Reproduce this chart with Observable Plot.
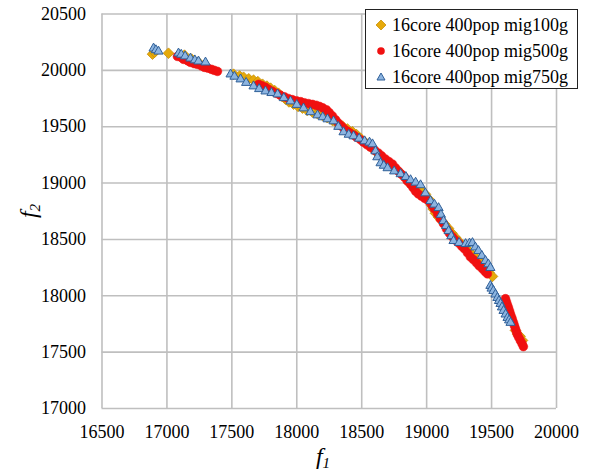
<!DOCTYPE html>
<html>
<head>
<meta charset="utf-8">
<script src="https://cdn.jsdelivr.net/npm/d3@7"></script>
<script src="https://cdn.jsdelivr.net/npm/@observablehq/plot@0.6"></script>
<style>
  html, body { margin: 0; padding: 0; background: #fff; }
  #wrap { position: relative; width: 589px; height: 475px; font-family: "Liberation Serif", "Times New Roman", serif; }
  #legend { position: absolute; left: 365px; top: 9px; width: 211px; height: 78px; border: 1.5px solid #222; background: #fff; }
  #legend .row { position: absolute; left: 0; height: 20px; display: flex; align-items: center; font-size: 18px; color: #000; white-space: nowrap; }
  #legend .row svg { margin-left: 9px; margin-right: 5px; }
</style>
</head>
<body>
<div id="wrap"></div>
<script>
const seriesNames = ["16core 400pop mig100g", "16core 400pop mig500g", "16core 400pop mig750g"];
const xTicks = [16500, 17000, 17500, 18000, 18500, 19000, 19500, 20000];
const yTicks = [17000, 17500, 18000, 18500, 19000, 19500, 20000, 20500];

const mig100_f1 = [16889, 16905, 17012, 17135, 17190, 17243, 17513, 17560, 17590, 17630, 17667, 17700, 17736, 17770, 17798, 17830, 17859, 17885, 17913, 17940, 17975, 18010, 18044, 18080, 18121, 18160, 18198, 18235, 18275, 18310, 18352, 18390, 18429, 18460, 18490, 18520, 18544, 18570, 18598, 18630, 18660, 18690, 18721, 18750, 18783, 18810, 18837, 18860, 18883, 18910, 18937, 18965, 18991, 19015, 19037, 19050, 19068, 19090, 19114, 19140, 19168, 19195, 19222, 19250, 19276, 19305, 19337, 19370, 19399, 19425, 19453, 19480, 19507, 19684, 19700, 19720, 19738];
const mig100_f2 = [20144, 20160, 20152, 20135, 20100, 20072, 19966, 19950, 19939, 19925, 19913, 19900, 19877, 19860, 19842, 19820, 19797, 19770, 19744, 19720, 19700, 19680, 19665, 19645, 19630, 19615, 19600, 19580, 19555, 19530, 19505, 19480, 19455, 19430, 19398, 19370, 19344, 19320, 19291, 19255, 19220, 19190, 19158, 19130, 19105, 19075, 19042, 19010, 18980, 18965, 18954, 18925, 18900, 18860, 18803, 18770, 18732, 18700, 18669, 18635, 18598, 18555, 18518, 18480, 18447, 18415, 18385, 18350, 18314, 18280, 18243, 18205, 18172, 17693, 17660, 17640, 17604];

const mig500_f1 = [17081, 17110, 17128, 17160, 17181, 17210, 17235, 17265, 17289, 17315, 17343, 17365, 17389, 17705, 17730, 17759, 17785, 17813, 17845, 17874, 17905, 17936, 17965, 17998, 18030, 18059, 18090, 18121, 18150, 18175, 18200, 18229, 18250, 18275, 18300, 18321, 18345, 18367, 18390, 18413, 18440, 18460, 18490, 18513, 18540, 18567, 18600, 18629, 18655, 18683, 18710, 18737, 18760, 18783, 18805, 18829, 18850, 18875, 18895, 18914, 18935, 18960, 18985, 19014, 19040, 19060, 19085, 19106, 19130, 19153, 19175, 19199, 19220, 19245, 19270, 19291, 19315, 19337, 19360, 19384, 19405, 19430, 19450, 19468, 19607, 19615, 19622, 19630, 19638, 19645, 19653, 19660, 19669, 19676, 19684, 19692, 19699, 19710, 19722, 19735, 19745];
const mig500_f2 = [20124, 20115, 20098, 20085, 20071, 20060, 20053, 20040, 20027, 20020, 20009, 20000, 19991, 19876, 19865, 19850, 19830, 19814, 19795, 19779, 19765, 19750, 19740, 19730, 19722, 19712, 19705, 19698, 19690, 19680, 19668, 19650, 19625, 19595, 19560, 19531, 19505, 19478, 19460, 19443, 19425, 19407, 19385, 19363, 19340, 19319, 19290, 19266, 19240, 19213, 19190, 19168, 19135, 19106, 19080, 19053, 19020, 18991, 18960, 18929, 18905, 18885, 18865, 18841, 18805, 18770, 18725, 18682, 18640, 18593, 18555, 18522, 18495, 18469, 18440, 18416, 18380, 18345, 18320, 18292, 18265, 18239, 18215, 18195, 17974, 17945, 17920, 17895, 17867, 17840, 17814, 17790, 17761, 17735, 17708, 17680, 17655, 17630, 17602, 17575, 17549];

const mig750_f1 = [16897, 16915, 16935, 17089, 17110, 17140, 17181, 17215, 17243, 17297, 17490, 17520, 17567, 17610, 17667, 17710, 17759, 17805, 17852, 17900, 17952, 18000, 18052, 18105, 18160, 18200, 18237, 18283, 18320, 18360, 18400, 18437, 18480, 18522, 18560, 18583, 18606, 18620, 18645, 18670, 18699, 18750, 18800, 18840, 18876, 18915, 18953, 18990, 19030, 19060, 19092, 19110, 19130, 19150, 19169, 19190, 19207, 19250, 19300, 19330, 19353, 19375, 19399, 19425, 19453, 19475, 19491, 19491, 19500, 19514, 19530, 19545, 19557, 19569, 19580, 19592, 19608, 19623, 19635, 19646];
const mig750_f2 = [20195, 20180, 20168, 20151, 20140, 20125, 20106, 20090, 20080, 20071, 19965, 19945, 19921, 19890, 19859, 19835, 19814, 19800, 19788, 19755, 19726, 19695, 19664, 19630, 19602, 19585, 19567, 19549, 19500, 19452, 19430, 19416, 19395, 19372, 19360, 19345, 19283, 19230, 19177, 19155, 19133, 19105, 19080, 19055, 19027, 19005, 18982, 18910, 18841, 18810, 18779, 18720, 18664, 18620, 18575, 18530, 18487, 18470, 18460, 18465, 18469, 18430, 18398, 18355, 18310, 18280, 18248, 18089, 18065, 18044, 18012, 17982, 17955, 17929, 17898, 17867, 17835, 17805, 17783, 17761];

const toRows = (xs, ys) => xs.map((v, i) => ({f1: v, f2: ys[i]}));
const s100 = toRows(mig100_f1, mig100_f2);
const s500 = toRows(mig500_f1, mig500_f2);
const s750 = toRows(mig750_f1, mig750_f2);

const gold = "#E6AA0A", goldStroke = "#C8900A";
const red = "#F01010";
const triFill = "#8CB4E0", triStroke = "#2F5F98";
const gridColor = "#BFBFBF";

const chart = Plot.plot({
  width: 589,
  height: 475,
  marginLeft: 101.5,
  marginRight: 33,
  marginTop: 13.5,
  marginBottom: 67,
  style: { fontFamily: "Liberation Serif, Times New Roman, serif", fontSize: "18px", color: "#000", background: "#fff", overflow: "visible" },
  x: { domain: [16500, 20000] },
  y: { domain: [17000, 20500] },
  marks: [
    Plot.gridX(xTicks, { stroke: gridColor, strokeOpacity: 1, strokeWidth: 1.6 }),
    Plot.gridY(yTicks, { stroke: gridColor, strokeOpacity: 1, strokeWidth: 1.6 }),
    Plot.axisX(xTicks, { tickSize: 0, tickPadding: 17, tickFormat: d => String(d), label: null, fontSize: 18 }),
    Plot.axisY(yTicks, { tickSize: 0, tickPadding: 16, tickFormat: d => String(d), label: null, fontSize: 18 }),
    Plot.dot(s100, { x: "f1", y: "f2", symbol: "diamond2", r: 4.8, fill: gold, stroke: goldStroke, strokeWidth: 0.8 }),
    Plot.dot(s500, { x: "f1", y: "f2", symbol: "circle", r: 4.4, fill: red, stroke: red, strokeWidth: 0.5 }),
    Plot.dot(s750, { x: "f1", y: "f2", symbol: "triangle", r: 3.4, fill: triFill, stroke: triStroke, strokeWidth: 1 })
  ]
});

const wrap = document.getElementById("wrap");
wrap.appendChild(chart);

// axis titles (italic f with subscripts)
const svg = d3.select(chart);
const xt = svg.append("text")
  .attr("x", 323).attr("y", 464)
  .attr("text-anchor", "middle")
  .attr("font-family", "Liberation Serif, Times New Roman, serif")
  .attr("font-size", 24).attr("font-style", "italic").attr("fill", "#000");
xt.append("tspan").text("f");
xt.append("tspan").attr("font-size", 15).attr("dy", 4).text("1");

const yt = svg.append("text")
  .attr("transform", "translate(36,211) rotate(-90)")
  .attr("text-anchor", "middle")
  .attr("font-family", "Liberation Serif, Times New Roman, serif")
  .attr("font-size", 24).attr("font-style", "italic").attr("fill", "#000");
yt.append("tspan").text("f");
yt.append("tspan").attr("font-size", 15).attr("dy", 4).text("2");

// legend
const legend = document.createElement("div");
legend.id = "legend";
const rowsY = [5, 31, 57];
const symbols = [
  `<svg width="12" height="12" viewBox="-6 -6 12 12"><path d="M0,-5L5,0L0,5L-5,0Z" fill="${gold}" stroke="${goldStroke}" stroke-width="0.8"/></svg>`,
  `<svg width="12" height="12" viewBox="-6 -6 12 12"><circle r="3.8" fill="${red}"/></svg>`,
  `<svg width="12" height="12" viewBox="-6 -6 12 12"><path d="M0,-4L4,3L-4,3Z" fill="${triFill}" stroke="${triStroke}" stroke-width="1"/></svg>`
];
seriesNames.forEach((name, i) => {
  const row = document.createElement("div");
  row.className = "row";
  row.style.top = rowsY[i] + "px";
  row.innerHTML = symbols[i] + `<span>${name}</span>`;
  legend.appendChild(row);
});
wrap.appendChild(legend);
</script>
</body>
</html>
